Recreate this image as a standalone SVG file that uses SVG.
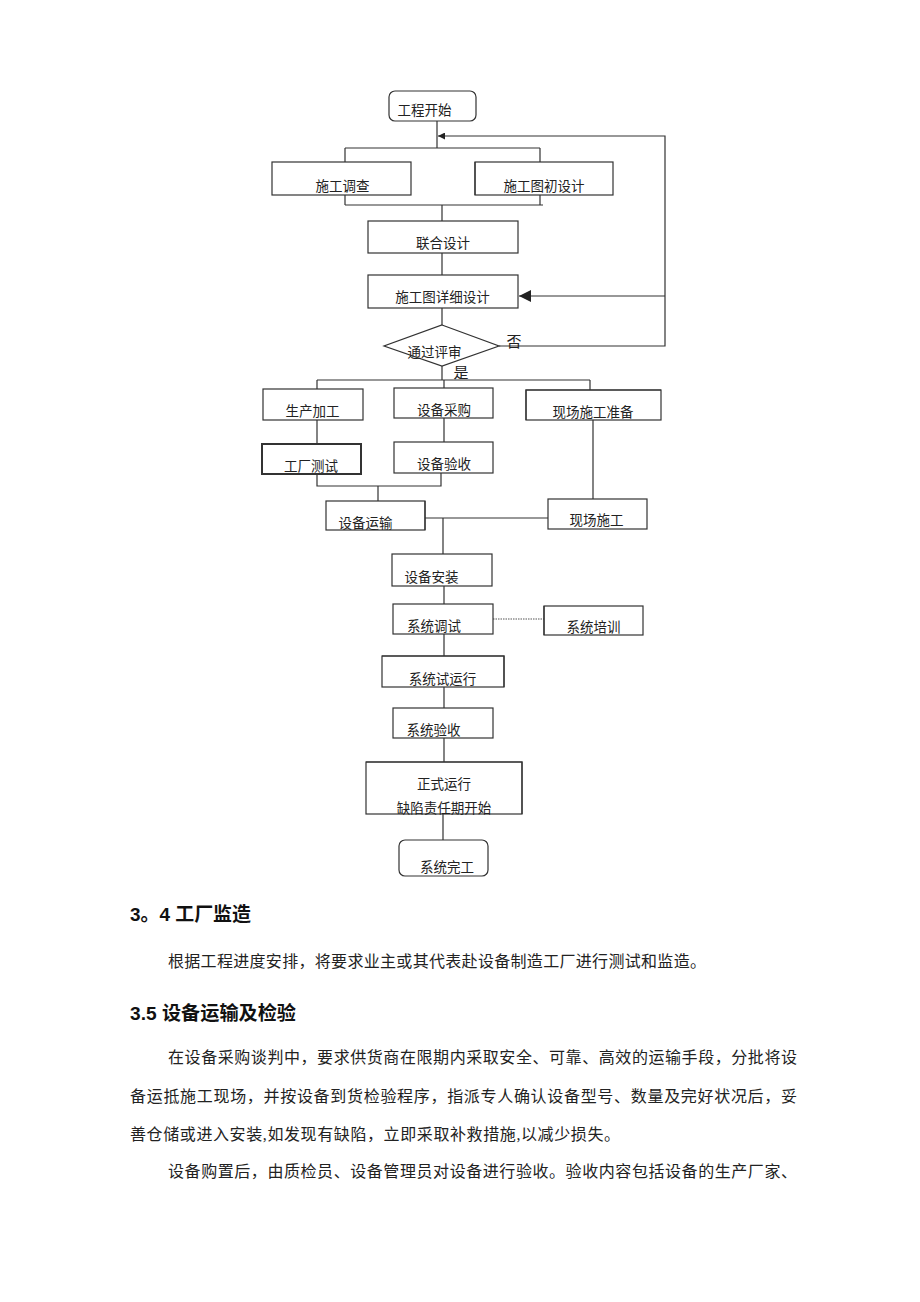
<svg xmlns="http://www.w3.org/2000/svg" width="920" height="1302" viewBox="0 0 920 1302">
<style>
.bg{fill:#fff}
.box{fill:#fff;stroke:#333;stroke-width:1.2}
.thick{stroke-width:2}
.ln{fill:none;stroke:#333;stroke-width:1.2}
.dot{fill:none;stroke:#555;stroke-width:1.2;stroke-dasharray:1.5 1}
.t{font-family:"Liberation Serif","Noto Sans CJK SC",serif;font-size:13.5px;fill:#222;text-anchor:middle}
.lbl{font-family:"Liberation Serif","Noto Sans CJK SC",serif;font-size:15px;fill:#222;text-anchor:middle}
.h{font-family:"Liberation Sans","Noto Sans CJK SC",sans-serif;font-size:19px;font-weight:bold;fill:#111}
.p{font-family:"Liberation Serif","Noto Sans CJK SC",serif;font-size:16px;fill:#222}
</style>
<defs>
<marker id="arr" viewBox="0 0 10 10" refX="10" refY="5" markerWidth="7" markerHeight="7" orient="auto" markerUnits="userSpaceOnUse">
<path d="M0,0 L10,5 L0,10 z" fill="#222"/>
</marker>
<marker id="arrL" viewBox="0 0 10 10" refX="10" refY="5" markerWidth="12" markerHeight="12" orient="auto" markerUnits="userSpaceOnUse">
<path d="M0,0 L10,5 L0,10 z" fill="#222"/>
</marker>
</defs>
<rect class="bg" x="0" y="0" width="920" height="1302"/>

<g id="connectors">
<path class="ln" d="M437,121 V148 M345,148 H540 M345,148 V162 M540,148 V162"/>
<path class="ln" d="M345,195 V205 M540,195 V205 M345,205 H543 M442,205 V221"/>
<path class="ln" d="M442,253 V275 M442,308 V325"/>
<path class="ln" d="M499,346 H665 V136 H438" marker-end="url(#arr)"/>
<path class="ln" d="M665,296 H519" marker-end="url(#arrL)"/>
<path class="ln" d="M442,366 V380 M317,380 H590 M317,380 V389 M444,380 V388 M590,380 V390"/>
<path class="ln" d="M317,420 V444 M444,418 V442 M593,420 V499"/>
<path class="ln" d="M317,474 V486 H441 V473 M378,486 V501"/>
<path class="ln" d="M425,518 H548 M443,518 V554"/>
<path class="ln" d="M444,586 V604"/>
<path class="dot" d="M493,619 H544"/>
<path class="ln" d="M444,634 V656 M444,687 V708 M444,738 V762 M443,814 V840"/>
</g>

<g id="n-start"><rect class="box" x="389" y="91" width="87" height="30" rx="6"/><text class="t" x="424.5" y="115">工程开始</text></g>
<g id="n-survey"><rect class="box" x="272" y="162" width="139" height="33"/><text class="t" x="342.5" y="191">施工调查</text></g>
<g id="n-prelim"><rect class="box" x="475" y="162" width="138" height="33"/><path class="ln thick" d="M475,162 V195"/><text class="t" x="544" y="191">施工图初设计</text></g>
<g id="n-joint"><rect class="box" x="368" y="221" width="150" height="32"/><text class="t" x="443" y="248">联合设计</text></g>
<g id="n-detail"><rect class="box" x="368" y="275" width="150" height="33"/><text class="t" x="442.5" y="302">施工图详细设计</text></g>
<g id="n-review"><polygon class="box" points="442,325 499,346 442,366 384,346"/><text class="t" x="434.5" y="357">通过评审</text></g>
<g id="l-no"><text class="lbl" x="514" y="347">否</text></g>
<g id="l-yes"><text class="lbl" x="461" y="378">是</text></g>
<g id="n-produce"><rect class="box" x="263" y="389" width="100" height="31"/><text class="t" x="312.5" y="416">生产加工</text></g>
<g id="n-purchase"><rect class="box" x="394" y="388" width="99" height="30"/><text class="t" x="444" y="415">设备采购</text></g>
<g id="n-siteprep"><rect class="box" x="526" y="390" width="135" height="30"/><path class="ln thick" d="M526,420 V390 H661"/><text class="t" x="593" y="417">现场施工准备</text></g>
<g id="n-factorytest"><rect class="box thick" x="262" y="444" width="99" height="30"/><text class="t" x="311" y="471">工厂测试</text></g>
<g id="n-accept"><rect class="box" x="394" y="442" width="99" height="31"/><text class="t" x="444" y="469">设备验收</text></g>
<g id="n-transport"><rect class="box" x="326" y="501" width="99" height="29"/><path class="ln thick" d="M425,501 V530"/><text class="t" x="365.5" y="528">设备运输</text></g>
<g id="n-sitework"><rect class="box" x="548" y="499" width="99" height="30"/><text class="t" x="596.5" y="525">现场施工</text></g>
<g id="n-install"><rect class="box" x="392" y="554" width="100" height="32"/><text class="t" x="431.5" y="582">设备安装</text></g>
<g id="n-debug"><rect class="box" x="393" y="604" width="100" height="30"/><text class="t" x="434" y="631">系统调试</text></g>
<g id="n-training"><rect class="box" x="544" y="606" width="99" height="29"/><path class="ln thick" d="M544,606 V635"/><text class="t" x="593.5" y="632">系统培训</text></g>
<g id="n-trial"><rect class="box" x="382" y="656" width="122" height="31"/><path class="ln thick" d="M382,656 H504 V687"/><text class="t" x="442.5" y="684">系统试运行</text></g>
<g id="n-sysaccept"><rect class="box" x="393" y="708" width="100" height="30"/><text class="t" x="433.5" y="735">系统验收</text></g>
<g id="n-formal"><rect class="box" x="366" y="762" width="156" height="52"/><path class="ln thick" d="M366,762 H522 V814"/><text class="t" x="444" y="789">正式运行</text><text class="t" x="444" y="813">缺陷责任期开始</text></g>
<g id="n-end"><rect class="box" x="399" y="840" width="89" height="36" rx="6"/><text class="t" x="447" y="872">系统完工</text></g>

<g id="body">
<text class="h" x="130" y="921" textLength="121" lengthAdjust="spacingAndGlyphs">3。4 工厂监造</text>
<text class="p" x="168" y="967" textLength="538" lengthAdjust="spacing">根据工程进度安排，将要求业主或其代表赴设备制造工厂进行测试和监造。</text>
<text class="h" x="130" y="1020" textLength="166" lengthAdjust="spacingAndGlyphs">3.5 设备运输及检验</text>
<text class="p" x="168" y="1063" textLength="629" lengthAdjust="spacing">在设备采购谈判中，要求供货商在限期内采取安全、可靠、高效的运输手段，分批将设</text>
<text class="p" x="130" y="1102" textLength="667" lengthAdjust="spacing">备运抵施工现场，并按设备到货检验程序，指派专人确认设备型号、数量及完好状况后，妥</text>
<text class="p" x="130" y="1140" textLength="490" lengthAdjust="spacing">善仓储或进入安装,如发现有缺陷，立即采取补救措施,以减少损失。</text>
<text class="p" x="168" y="1177" textLength="629" lengthAdjust="spacing">设备购置后，由质检员、设备管理员对设备进行验收。验收内容包括设备的生产厂家、</text>
</g>
</svg>
